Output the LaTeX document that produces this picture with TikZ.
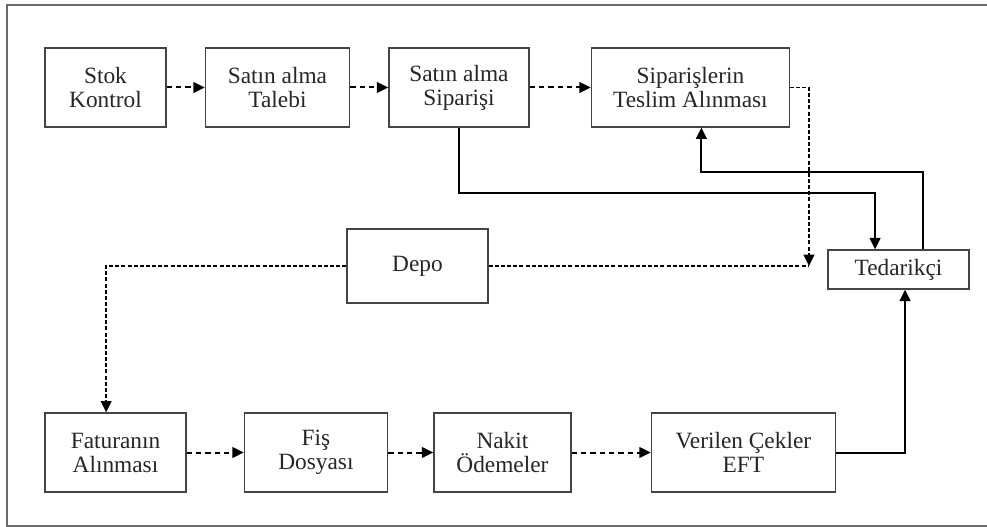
\documentclass[tikz,border=0pt]{standalone}
\usepackage{fontspec}
\setmainfont{Liberation Serif}
\usetikzlibrary{arrows.meta,positioning}
\definecolor{boxgray}{HTML}{444444}
\definecolor{framegray}{HTML}{6A6A6A}
\tikzset{
  stepbox/.style={draw=boxgray, line width=1.1pt, align=center, inner sep=0pt, minimum height=59pt, text=black!85, font=\fontsize{17.5}{18}\selectfont},
  edge/.style={-{Triangle[length=8.5pt,width=8pt]}, line width=1.5pt, draw=black},
  dashedge/.style={-{Triangle[length=8.5pt,width=8pt]}, line width=1.5pt, draw=black, dash pattern=on 4pt off 3pt},
  fineedge/.style={-{Triangle[length=8.5pt,width=8pt]}, line width=1.3pt, draw=black, dash pattern=on 3pt off 1.6pt},
  fineline/.style={line width=1.3pt, draw=black, dash pattern=on 3pt off 1.6pt}
}
\begin{document}
\begin{tikzpicture}[x=0.75pt, y=-0.75pt]
  \useasboundingbox (0,0) rectangle (987,527);
  \draw[framegray, line width=1.5pt] (987,5) -- (7,5) -- (7,526) -- (987,526);
  % top row
  \node[stepbox, minimum width=90.75pt] (stok) at (105.5,87.5) {Stok\\Kontrol};
  \node[stepbox, minimum width=108pt, right=28.5pt of stok] (talebi) {Satın alma\\Talebi};
  \node[stepbox, minimum width=105pt, right=28.5pt of talebi] (siparis) {Satın alma\\Siparişi};
  \node[stepbox, minimum width=148.5pt, right=45.75pt of siparis] (teslim) {Siparişlerin\\Teslim Alınması};
  % middle
  \node[stepbox, minimum width=105.75pt, minimum height=55.5pt] (depo) at (417.5,266) {Depo};
  \node[stepbox, minimum width=105.75pt, minimum height=29.25pt] (tedarik) at (898.5,269.5) {Tedarikçi};
  \coordinate (junc) at (809,266);
  % bottom row
  \node[stepbox, minimum width=105.75pt] (fatura) at (115.5,452.5) {Faturanın\\Alınması};
  \node[stepbox, minimum width=107.25pt, right=42.75pt of fatura] (fis) {Fiş\\Dosyası};
  \node[stepbox, minimum width=102.75pt, right=33.75pt of fis] (nakit) {Nakit\\Ödemeler};
  \node[stepbox, minimum width=138pt, right=59.25pt of nakit] (cek) {Verilen Çekler\\EFT};
  \draw[dashedge] (stok) -- (talebi);
  \draw[dashedge] (talebi) -- (siparis);
  \draw[dashedge] (siparis) -- (teslim);
  \draw[fineedge] (teslim.east) -| (junc);
  \draw[fineline] (depo.east) -- (junc);
  \draw[fineedge] (depo.west) -| ([xshift=-7pt]fatura.north);
  \draw[edge] (siparis.south) -- ++(0,65) -| ([xshift=-17.6pt]tedarik.north);
  \draw[edge] ([xshift=18.4pt]tedarik.north) -- ++(0,-77) -| ([xshift=8.25pt]teslim.south);
  \draw[dashedge] (fatura) -- (fis);
  \draw[dashedge] (fis) -- (nakit);
  \draw[dashedge] (nakit) -- (cek);
  \draw[edge] (cek.east) -| ([xshift=4.9pt]tedarik.south);
\end{tikzpicture}
\end{document}
